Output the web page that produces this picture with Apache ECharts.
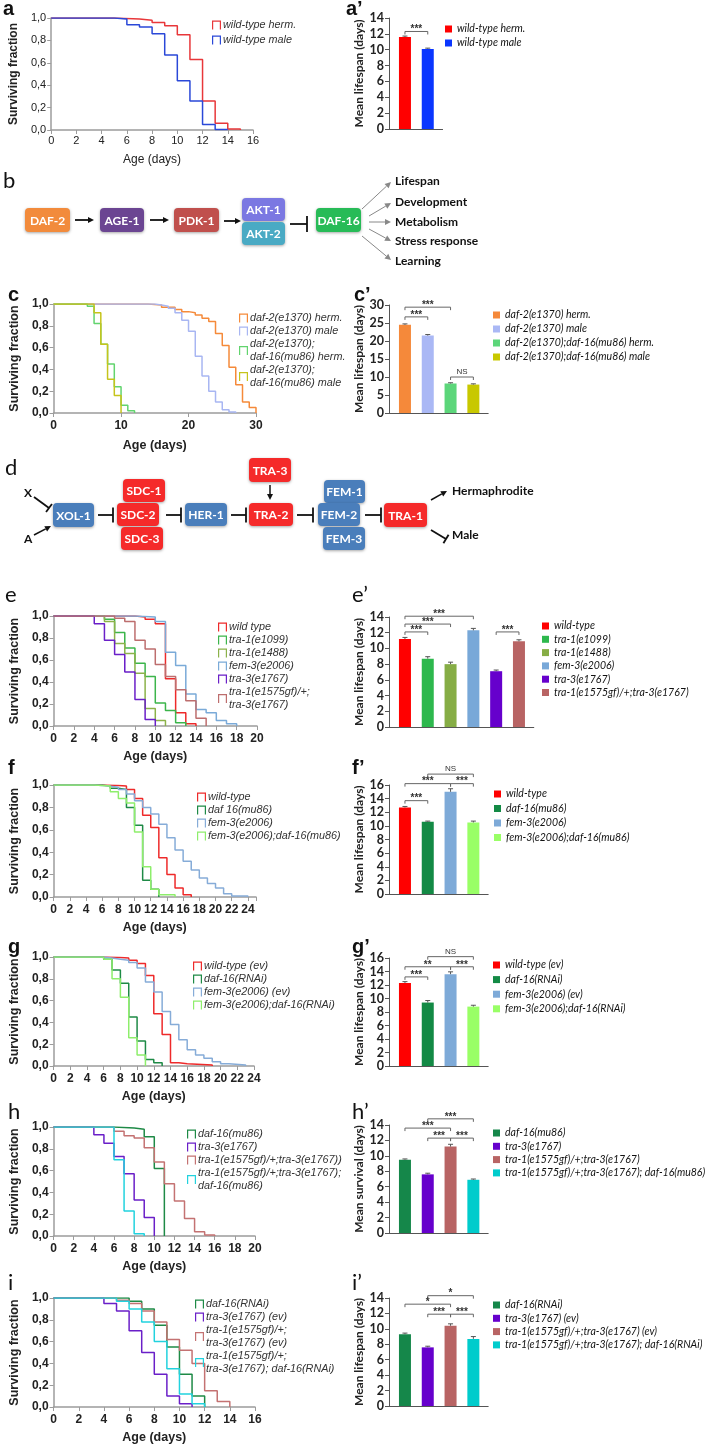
<!DOCTYPE html>
<html>
<head>
<meta charset="utf-8">
<script src="https://cdn.jsdelivr.net/npm/echarts@6/dist/echarts.min.js"></script>
<style>
  body { margin: 0; background: #fff; width: 709px; height: 1445px; position: relative; overflow: hidden; }
</style>
</head>
<body>
<script>
// ---------- data ----------
// a / a'
var aNames = ['wild-type herm.', 'wild-type male'];
var aHerm = [[0,1],[5,0.995],[6,0.99],[7,0.98],[8,0.96],[9,0.93],[10,0.85],[11,0.63],[12,0.26],[13,0.06],[14,0.01],[15,0]];
var aMale = [[0,1],[5,0.99],[6,0.94],[7,0.92],[8,0.86],[9,0.67],[10,0.44],[11,0.26],[12,0.05],[13,0.005],[14,0]];
var aMean = [11.6, 10.1];
var aSem = [0.12, 0.1];
var aSig = [[1, 2, 12.3, '***']];

// c / c'
var cNames = ['daf-2(e1370) herm.', 'daf-2(e1370) male', 'daf-2(e1370);\ndaf-16(mu86) herm.', 'daf-2(e1370);\ndaf-16(mu86) male'];
var cBarNames = ['daf-2(e1370) herm.', 'daf-2(e1370) male', 'daf-2(e1370);daf-16(mu86) herm.', 'daf-2(e1370);daf-16(mu86) male'];
var cHerm = [[0,1],[14,0.99],[16,0.97],[18,0.95],[19,0.93],[20,0.92],[21,0.9],[22,0.87],[23,0.84],[24,0.73],[25,0.62],[26,0.42],[27,0.26],[28,0.1],[29,0.05],[30,0]];
var cMale = [[0,1],[15,0.99],[16,0.98],[17,0.96],[18,0.92],[19,0.85],[20,0.75],[21,0.52],[22,0.34],[23,0.2],[24,0.1],[25,0.03],[26,0.01],[27,0]];
var cDblHerm = [[0,1],[5,0.98],[6,0.82],[7,0.63],[8,0.45],[9,0.24],[10,0.07],[11,0.02],[12,0]];
var cDblMale = [[0,1],[6,0.92],[7,0.63],[8,0.31],[9,0.16],[10,0]];
var cMean = [24.5, 21.5, 8.2, 7.9];
var cSem = [0.25, 0.3, 0.2, 0.2];
var cSig = [[1, 2, 26.7, '***'], [1, 3, 29.4, '***'], [3, 4, 10, 'NS']];

// e / e'
var eNames = ['wild type', 'tra-1(e1099)', 'tra-1(e1488)', 'fem-3(e2006)', 'tra-3(e1767)', 'tra-1(e1575gf)/+;\ntra-3(e1767)'];
var eBarNames = ['wild-type', 'tra-1(e1099)', 'tra-1(e1488)', 'fem-3(e2006)', 'tra-3(e1767)', 'tra-1(e1575gf)/+;tra-3(e1767)'];
var eWt = [[0,1],[8,0.99],[9,0.97],[10,0.93],[11,0.43],[12,0.12],[13,0.02],[14,0]];
var eTra1a = [[0,1],[5,0.97],[6,0.85],[7,0.71],[8,0.57],[9,0.45],[10,0.21],[11,0.14],[12,0.03],[13,0]];
var eTra1b = [[0,1],[5,0.95],[6,0.75],[7,0.66],[8,0.48],[9,0.16],[10,0.05],[11,0]];
var eFem3 = [[0,1],[8,0.99],[10,0.95],[11,0.67],[12,0.55],[13,0.29],[14,0.15],[15,0.12],[16,0.05],[17,0.02],[18,0]];
var eTra3 = [[0,1],[4,0.93],[5,0.78],[6,0.65],[7,0.49],[8,0.24],[9,0.06],[10,0]];
var eGf = [[0,1],[6,0.98],[7,0.95],[8,0.78],[9,0.7],[10,0.56],[11,0.45],[12,0.33],[13,0.23],[14,0.07],[15,0]];
var eMean = [11.2, 8.7, 8.0, 12.3, 7.1, 10.9];
var eSem = [0.2, 0.25, 0.25, 0.25, 0.15, 0.2];
var eSig = [[1, 4, 14.1, '***'], [1, 3, 13.1, '***'], [1, 2, 12.1, '***'], [5, 6, 12.1, '***']];

// f / f'
var fNames = ['wild-type', 'daf 16(mu86)', 'fem-3(e2006)', 'fem-3(e2006);daf-16(mu86)'];
var fBarNames = ['wild-type', 'daf-16(mu86)', 'fem-3(e2006)', 'fem-3(e2006);daf-16(mu86)'];
var fWt = [[0,1],[6,0.995],[8,0.99],[9,0.96],[10,0.88],[11,0.73],[12,0.62],[13,0.35],[14,0.2],[15,0.08],[16,0.02],[17,0]];
var fDaf16 = [[0,1],[6,0.99],[7,0.97],[8,0.96],[9,0.8],[10,0.64],[11,0.15],[12,0.07],[13,0]];
var fFem3 = [[0,1],[5,0.99],[7,0.98],[8,0.96],[9,0.92],[10,0.86],[11,0.8],[12,0.74],[13,0.65],[14,0.53],[15,0.42],[16,0.32],[17,0.24],[18,0.17],[19,0.12],[20,0.08],[21,0.03],[22,0.01],[24,0]];
var fDbl = [[0,1],[5,0.99],[7,0.94],[8,0.88],[9,0.84],[10,0.58],[11,0.27],[12,0.07],[13,0.02],[15,0]];
var fMean = [12.7, 10.6, 15.0, 10.5];
var fSem = [0.15, 0.1, 0.45, 0.2];
var fSig = [[1, 2, 13.7, '***'], [1, 3, 16.2, '***'], [3, 4, 16.2, '***'], [2, 4, 17.6, 'NS']];

// g / g'
var gNames = ['wild-type (ev)', 'daf-16(RNAi)', 'fem-3(e2006) (ev)', 'fem-3(e2006);daf-16(RNAi)'];
var gWt = [[0,1],[6,0.995],[8,0.99],[9,0.97],[10,0.94],[11,0.83],[12,0.48],[13,0.29],[14,0.03],[15,0.02],[16,0.01],[19,0]];
var gDaf16 = [[0,1],[6,0.98],[7,0.88],[8,0.76],[9,0.45],[10,0.23],[11,0.06],[12,0.03],[13,0]];
var gFem3 = [[0,1],[6,0.99],[7,0.98],[8,0.97],[9,0.95],[10,0.9],[11,0.77],[12,0.68],[13,0.5],[14,0.38],[15,0.24],[16,0.15],[17,0.1],[18,0.07],[19,0.04],[20,0.02],[21,0.01],[23,0]];
var gDbl = [[0,1],[6,0.98],[7,0.8],[8,0.63],[9,0.26],[10,0.1],[11,0]];
var gMean = [12.3, 9.4, 13.6, 8.8];
var gSem = [0.2, 0.3, 0.35, 0.2];
var gSig = [[1, 2, 13.2, '***'], [1, 3, 14.7, '**'], [3, 4, 14.7, '***'], [2, 4, 16.2, 'NS']];

// h / h'
var hNames = ['daf-16(mu86)', 'tra-3(e1767)', 'tra-1(e1575gf)/+;tra-3(e1767))', 'tra-1(e1575gf)/+;tra-3(e1767);\ndaf-16(mu86)'];
var hBarNames = ['daf-16(mu86)', 'tra-3(e1767)', 'tra-1(e1575gf)/+;tra-3(e1767)', 'tra-1(e1575gf)/+;tra-3(e1767); daf-16(mu86)'];
var hDaf16 = [[0,1],[6,0.99],[8,0.98],[9,0.91],[10,0.62],[11,0]];
var hTra3 = [[0,1],[4,0.93],[5,0.85],[6,0.73],[7,0.57],[8,0.33],[9,0.17],[10,0]];
var hGf = [[0,1],[6,0.96],[7,0.92],[8,0.9],[9,0.81],[10,0.68],[11,0.48],[12,0.32],[13,0.16],[14,0.04],[15,0.01],[16,0]];
var hGfDaf16 = [[0,1],[6,0.7],[7,0.23],[8,0.02],[9,0]];
var hMean = [9.5, 7.6, 11.2, 6.9];
var hSem = [0.1, 0.15, 0.3, 0.1];
var hSig = [[2, 4, 14.8, '***'], [1, 3, 13.6, '***'], [2, 3, 12.3, '***'], [3, 4, 12.3, '***']];

// i / i'
var iNames = ['daf-16(RNAi)', 'tra-3(e1767) (ev)', 'tra-1(e1575gf)/+;\ntra-3(e1767) (ev)', 'tra-1(e1575gf)/+;\ntra-3(e1767); daf-16(RNAi)'];
var iBarNames = ['daf-16(RNAi)', 'tra-3(e1767) (ev)', 'tra-1(e1575gf)/+;tra-3(e1767) (ev)', 'tra-1(e1575gf)/+;tra-3(e1767); daf-16(RNAi)'];
var iDaf16 = [[0,1],[6,0.97],[7,0.9],[8,0.75],[9,0.55],[10,0.3],[11,0.1],[12,0]];
var iTra3 = [[0,1],[4,0.95],[5,0.88],[6,0.7],[7,0.5],[8,0.3],[9,0.1],[10,0.03],[11,0]];
var iGf = [[0,1],[5,0.98],[6,0.95],[7,0.88],[8,0.78],[9,0.62],[10,0.52],[11,0.4],[12,0.15],[13,0.05],[14,0]];
var iGfDaf16 = [[0,1],[5,0.97],[6,0.9],[7,0.78],[8,0.6],[9,0.35],[10,0.12],[11,0.03],[12,0]];
var iMean = [9.3, 7.6, 10.4, 8.7];
var iSem = [0.15, 0.15, 0.25, 0.3];
var iSig = [[2, 4, 14.3, '*'], [1, 3, 13.2, '*'], [2, 3, 11.9, '***'], [3, 4, 11.9, '***']];

// ---------- helpers ----------
var SANS = 'Liberation Sans';
var CAL = 'Lato';
var STEP_ICON = 'path://M0,12L0,0L12,0L12,12L10.4,12L10.4,1.6L1.6,1.6L1.6,12Z';

// narrow face for the bar legends (Calibri-like width), fall back to a smaller Lato
function hasFont(f) {
  var c = document.createElement('canvas').getContext('2d');
  var t = 'abcdefghijklmnopqrstuvwxyz0123456789()';
  c.font = '12px monospace';
  var w0 = c.measureText(t).width;
  c.font = '12px "' + f + '", monospace';
  return Math.abs(c.measureText(t).width - w0) > 0.5;
}
var LEG_FONT = hasFont('Liberation Sans Narrow') ? { family: 'Liberation Sans Narrow', size: 12.5 } : { family: CAL, size: 10.5 };

function box(x, y, w, h) {
  var d = document.createElement('div');
  d.style.cssText = 'position:absolute;left:' + x + 'px;top:' + y + 'px;width:' + w + 'px;height:' + h + 'px';
  document.body.appendChild(d);
  return echarts.init(d);
}

function comma(v) { return v.toFixed(1).replace('.', ','); }

function kmPanel(o) {
  var padT = 24, padB = 50, top = o.y0 - padT;
  var chart = box(0, top, 362, o.y1 - o.y0 + padT + padB);
  var axisColor = '#9c9c9c';
  chart.setOption({
    animation: false,
    grid: { left: o.x0, top: padT, width: o.x1 - o.x0, height: o.y1 - o.y0 },
    legend: {
      orient: 'vertical', left: o.lx, top: o.ly - top - o.lh / 2,
      itemWidth: 9, itemHeight: 9, itemGap: 0, icon: STEP_ICON, selectedMode: false,
      textStyle: { fontFamily: SANS, fontStyle: 'italic', fontSize: 10.8, lineHeight: o.lh, color: '#333', padding: [0, 0, 0, -3] },
      data: o.names
    },
    xAxis: {
      type: 'value', min: 0, max: o.xMax, interval: o.xStep,
      name: 'Age (days)', nameLocation: 'middle', nameGap: o.xGap,
      nameTextStyle: { fontFamily: SANS, fontSize: o.titleSize, fontWeight: o.titleWeight, color: '#222' },
      axisLine: { lineStyle: { color: axisColor, width: 1.5 } },
      axisTick: { length: 4, lineStyle: { color: axisColor } },
      axisLabel: {
        fontFamily: SANS, fontSize: o.tickSize, fontWeight: o.tickWeight, color: '#222', margin: o.xMargin,
        formatter: function (v) { return v <= o.xLast ? String(v) : ''; }
      },
      splitLine: { show: false }
    },
    yAxis: {
      type: 'value', min: 0, max: 1, interval: 0.2,
      name: 'Surviving fraction', nameLocation: 'middle', nameGap: o.yGap,
      nameTextStyle: { fontFamily: SANS, fontSize: o.titleSize, fontWeight: 'bold', color: '#222' },
      axisLine: { show: true, lineStyle: { color: axisColor, width: 1.5 } },
      axisTick: { show: true, length: 4, lineStyle: { color: axisColor } },
      axisLabel: { fontFamily: SANS, fontSize: o.tickSize, fontWeight: o.tickWeight, color: '#222', margin: 5, formatter: comma },
      splitLine: { show: false }
    },
    series: o.names.map(function (n, i) {
      return {
        type: 'line', name: n, step: 'end', data: o.data[i], symbol: 'none',
        lineStyle: { color: o.colors[i], width: 1.5 }, itemStyle: { color: o.colors[i] }
      };
    })
  });
}

function barPanel(o) {
  var n = o.values.length, padT = 32, padB = 12, left = 350, top = o.y0 - padT;
  var chart = box(left, top, 359, o.y1 - o.y0 + padT + padB);
  var series = o.names.map(function (nm, i) {
    return { type: 'bar', name: nm, barWidth: 12, barGap: '-100%', data: [[i + 1, o.values[i]]], itemStyle: { color: o.colors[i] } };
  });
  // error bars
  series.push({
    type: 'custom', z: 5, silent: true,
    data: o.values.map(function (v, i) { return [i + 1, v, o.errs[i]]; }),
    renderItem: function (p, api) {
      var hi = api.coord([api.value(0), api.value(1) + api.value(2)]);
      var lo = api.coord([api.value(0), api.value(1)]);
      var st = { stroke: '#555', lineWidth: 1 };
      return { type: 'group', children: [
        { type: 'line', shape: { x1: hi[0], y1: hi[1], x2: lo[0], y2: lo[1] }, style: st },
        { type: 'line', shape: { x1: hi[0] - 2.5, y1: hi[1], x2: hi[0] + 2.5, y2: hi[1] }, style: st }
      ] };
    }
  });
  // significance brackets
  series.push({
    type: 'custom', z: 6, silent: true, encode: { x: [0, 1], y: 2 },
    data: o.sig.map(function (s) { return [s[0], s[1], s[2]]; }),
    renderItem: function (p, api) {
      var a = api.coord([api.value(0), api.value(2)]);
      var b = api.coord([api.value(1), api.value(2)]);
      var txt = o.sig[p.dataIndex][3];
      var ns = txt === 'NS';
      return { type: 'group', children: [
        { type: 'polyline', shape: { points: [[a[0], a[1] + 3], [a[0], a[1]], [b[0], b[1]], [b[0], b[1] + 3]] },
          style: { stroke: '#666', lineWidth: 1, fill: null } },
        { type: 'text', x: (a[0] + b[0]) / 2, y: a[1] + (ns ? -1 : 3),
          style: { text: txt, align: 'center', verticalAlign: 'bottom', fill: '#333',
            font: (ns ? 'normal 8px ' : 'bold 10px ') + SANS } }
      ] };
    }
  });
  chart.setOption({
    animation: false,
    grid: { left: o.x0 - left, top: padT, width: (n + 0.35) * 22.8, height: o.y1 - o.y0 },
    legend: {
      orient: 'vertical', left: o.lx - left, top: o.ly - top - o.lh / 2,
      icon: 'rect', itemWidth: 7, itemHeight: 7, itemGap: 0, itemStyle: { borderWidth: 0 }, selectedMode: false,
      textStyle: { fontFamily: LEG_FONT.family, fontStyle: 'italic', fontSize: LEG_FONT.size, lineHeight: o.lh, color: '#111' },
      data: o.names
    },
    xAxis: {
      type: 'value', min: 0.3, max: n + 0.65,
      axisLine: { onZero: false, lineStyle: { color: '#555' } },
      axisTick: { show: false }, axisLabel: { show: false }, splitLine: { show: false }
    },
    yAxis: {
      type: 'value', min: 0, max: o.yMax, interval: o.yStep,
      name: o.yName, nameLocation: 'middle', nameGap: o.yGap,
      nameTextStyle: { fontFamily: CAL, fontWeight: 'bold', fontSize: 12, color: '#222' },
      axisLine: { show: true, onZero: false, lineStyle: { color: '#555' } },
      axisTick: { show: true, length: 4, lineStyle: { color: '#555' } },
      axisLabel: { fontFamily: CAL, fontWeight: 'bold', fontSize: 12.5, color: '#222', margin: 5 },
      splitLine: { show: false }
    },
    series: series
  });
}

// ---------- background: panel letters and the two pathway diagrams ----------
var els = [];
function letter(t, x, y, bold) {
  els.push({ type: 'text', x: x, y: y, style: { text: t, fill: '#111', align: 'left', verticalAlign: 'middle',
    font: bold ? 'bold 20px ' + SANS : 'normal 22px ' + CAL } });
}
function node(t, x1, y1, x2, y2, color) {
  els.push({ type: 'rect', shape: { x: x1, y: y1, width: x2 - x1, height: y2 - y1, r: 4 },
    style: { fill: color, shadowBlur: 3, shadowOffsetY: 1, shadowColor: 'rgba(0,0,0,0.35)' } });
  els.push({ type: 'text', x: (x1 + x2) / 2, y: (y1 + y2) / 2 + 1,
    style: { text: t, fill: '#fff', align: 'center', verticalAlign: 'middle', font: 'bold 12px ' + CAL } });
}
function word(t, x, y) {
  els.push({ type: 'text', x: x, y: y, style: { text: t, fill: '#111', align: 'left', verticalAlign: 'middle', font: 'bold 12px ' + CAL } });
}
function arrow(x1, y1, x2, y2, color, w) {
  var dx = x2 - x1, dy = y2 - y1, L = Math.sqrt(dx * dx + dy * dy), ux = dx / L, uy = dy / L, h = 6, s = 3;
  var bx = x2 - ux * h, by = y2 - uy * h;
  els.push({ type: 'line', shape: { x1: x1, y1: y1, x2: bx, y2: by }, style: { stroke: color, lineWidth: w } });
  els.push({ type: 'polygon', shape: { points: [[x2, y2], [bx - uy * s, by + ux * s], [bx + uy * s, by - ux * s]] }, style: { fill: color } });
}
function inhibit(x1, y1, x2, y2, len) {
  var dx = x2 - x1, dy = y2 - y1, L = Math.sqrt(dx * dx + dy * dy), px = -dy / L, py = dx / L, b = len / 2;
  els.push({ type: 'line', shape: { x1: x1, y1: y1, x2: x2, y2: y2 }, style: { stroke: '#111', lineWidth: 1.8 } });
  els.push({ type: 'line', shape: { x1: x2 - px * b, y1: y2 - py * b, x2: x2 + px * b, y2: y2 + py * b }, style: { stroke: '#111', lineWidth: 1.8 } });
}

letter('a', 3, 9, true); letter('a\u2019', 346, 9, true);
letter('b', 3, 181, false);
letter('c', 8, 295, true); letter('c\u2019', 354, 295, true);
letter('d', 5, 468, false);
letter('e', 5, 595, false); letter('e\u2019', 352, 595, false);
letter('f', 8, 768, true); letter('f\u2019', 352, 768, true);
letter('g', 8, 947, true); letter('g\u2019', 352, 947, true);
letter('h', 8, 1112, false); letter('h\u2019', 352, 1112, false);
letter('i', 8, 1283, false); letter('i\u2019', 352, 1283, false);

// b: insulin signalling
node('DAF-2', 25, 208, 70, 232, '#f28b3c');
arrow(75, 220, 94, 220, '#111', 1.8);
node('AGE-1', 100, 208, 144, 232, '#6b4592');
arrow(150, 220, 169, 220, '#111', 1.8);
node('PDK-1', 174, 208, 219, 232, '#c0504d');
arrow(224, 221, 241, 221, '#111', 1.8);
node('AKT-1', 242, 198, 285, 221, '#7b78e2');
node('AKT-2', 242, 222, 285, 245, '#4aaac4');
inhibit(290, 224, 307, 224, 16);
node('DAF-16', 316, 208, 361, 232, '#27bb57');
arrow(362, 209, 391, 182, '#888', 1);
arrow(369, 216, 391, 203, '#888', 1);
arrow(369, 222, 391, 222, '#888', 1);
arrow(369, 229, 391, 241, '#888', 1);
arrow(362, 236, 391, 260, '#888', 1);
word('Lifespan', 395, 181); word('Development', 395, 202); word('Metabolism', 395, 222);
word('Stress response', 395, 241); word('Learning', 395, 261);

// d: sex determination
var BLUE = '#4a7ebb', RED = '#f52a2a';
word('X', 24, 493); word('A', 24, 539);
inhibit(34, 497, 49, 508, 10);
arrow(34, 535, 51, 526, '#111', 1.5);
node('XOL-1', 53, 503, 94, 527, BLUE);
inhibit(98, 515, 113, 515, 15);
node('SDC-1', 123, 479, 165, 502, RED);
node('SDC-2', 117, 503, 159, 526, RED);
node('SDC-3', 121, 527, 163, 550, RED);
inhibit(166, 515, 181, 515, 15);
node('HER-1', 185, 503, 227, 526, BLUE);
inhibit(231, 515, 246, 515, 15);
node('TRA-3', 249, 458, 291, 482, RED);
arrow(270, 485, 270, 500, '#111', 1.5);
node('TRA-2', 249, 503, 293, 526, RED);
inhibit(297, 515, 313, 515, 15);
node('FEM-1', 324, 480, 365, 503, BLUE);
node('FEM-2', 318, 503, 360, 526, BLUE);
node('FEM-3', 323, 527, 365, 550, BLUE);
inhibit(365, 515, 381, 515, 15);
node('TRA-1', 384, 503, 427, 527, RED);
arrow(431, 500, 447, 491, '#111', 1.5);
inhibit(431, 530, 446, 539, 10);
word('Hermaphrodite', 452, 491); word('Male', 452, 535);

var bg = box(0, 0, 709, 1445);
bg.setOption({ animation: false, graphic: { elements: els } });

// ---------- survival panels ----------
var boldTicks = { tickSize: 12, tickWeight: 'bold', titleSize: 12.5, titleWeight: 'bold' };
function km(o) { kmPanel(Object.assign({}, boldTicks, o)); }

kmPanel({ x0: 43, x1: 253, y0: 18, y1: 130, xMax: 16, xStep: 2, xLast: 16, xGap: 24, xMargin: 5, yGap: 22,
  tickSize: 11, tickWeight: 'normal', titleSize: 12, titleWeight: 'normal',
  names: aNames, data: [aHerm, aMale], colors: ['#e8373a', '#2a48d8'], lx: 207, ly: 20, lh: 15 });

km({ x0: 48, x1: 256, y0: 304, y1: 413, xMax: 30, xStep: 10, xLast: 30, xGap: 26, xMargin: 7, yGap: 24,
  names: cNames, data: [cHerm, cMale, cDblHerm, cDblMale], colors: ['#f58a3a', '#a8b6f2', '#62d46e', '#c6c41c'],
  lx: 234, ly: 313, lh: 13 });

km({ x0: 48, x1: 257, y0: 616, y1: 726, xMax: 20, xStep: 2, xLast: 20, xGap: 23, xMargin: 7, yGap: 24,
  names: eNames, data: [eWt, eTra1a, eTra1b, eFem3, eTra3, eGf],
  colors: ['#ee2a2a', '#3cb54b', '#8cb24a', '#7aaad8', '#6a1fc8', '#bd6e6e'], lx: 213, ly: 622, lh: 13 });

km({ x0: 48, x1: 256, y0: 785, y1: 897, xMax: 25, xStep: 2, xLast: 24, xGap: 22, xMargin: 7, yGap: 24,
  names: fNames, data: [fWt, fDaf16, fFem3, fDbl], colors: ['#ee2a2a', '#1e8a46', '#86acd8', '#8eee6c'],
  lx: 192, ly: 792, lh: 13 });

km({ x0: 48, x1: 254, y0: 957, y1: 1066, xMax: 24, xStep: 2, xLast: 24, xGap: 23, xMargin: 7, yGap: 24,
  names: gNames, data: [gWt, gDaf16, gFem3, gDbl], colors: ['#ee2a2a', '#1e8a46', '#86acd8', '#8eee6c'],
  lx: 188, ly: 961, lh: 13 });

km({ x0: 48, x1: 255, y0: 1127, y1: 1236, xMax: 20, xStep: 2, xLast: 20, xGap: 23, xMargin: 7, yGap: 24,
  names: hNames, data: [hDaf16, hTra3, hGf, hGfDaf16], colors: ['#1e8a46', '#6a1fc8', '#c47272', '#22d2de'],
  lx: 182, ly: 1129, lh: 13 });

km({ x0: 48, x1: 255, y0: 1298, y1: 1407, xMax: 16, xStep: 2, xLast: 16, xGap: 23, xMargin: 7, yGap: 24,
  names: iNames, data: [iDaf16, iTra3, iGf, iGfDaf16], colors: ['#1e8a46', '#6a1fc8', '#c47272', '#22d2de'],
  lx: 190, ly: 1299, lh: 13 });

// ---------- mean lifespan panels ----------
barPanel({ x0: 389, y0: 18, y1: 129, yMax: 14, yStep: 2, yName: 'Mean lifespan (days)', yGap: 20,
  names: aNames, values: aMean, errs: aSem, sig: aSig, colors: ['#ff0000', '#0a36ff'], lx: 440, ly: 24, lh: 14 });

barPanel({ x0: 389, y0: 305, y1: 413, yMax: 30, yStep: 5, yName: 'Mean lifespan (days)', yGap: 22,
  names: cBarNames, values: cMean, errs: cSem, sig: cSig, colors: ['#f5893a', '#aab8f5', '#5cd67a', '#c8c800'],
  lx: 488, ly: 310, lh: 14 });

barPanel({ x0: 389, y0: 617, y1: 727, yMax: 14, yStep: 2, yName: 'Mean lifespan (days)', yGap: 20,
  names: eBarNames, values: eMean, errs: eSem, sig: eSig,
  colors: ['#ff0000', '#2db84d', '#86ad45', '#78a8d8', '#6600cc', '#b86464'], lx: 537, ly: 621, lh: 13.3 });

barPanel({ x0: 389, y0: 785, y1: 894, yMax: 16, yStep: 2, yName: 'Mean lifespan (days)', yGap: 20,
  names: fBarNames, values: fMean, errs: fSem, sig: fSig, colors: ['#ff0000', '#138a45', '#7eaad8', '#99ff66'],
  lx: 489, ly: 789, lh: 14.5 });

barPanel({ x0: 389, y0: 958, y1: 1066, yMax: 16, yStep: 2, yName: 'Mean lifespan (days)', yGap: 20,
  names: gNames, values: gMean, errs: gSem, sig: gSig, colors: ['#ff0000', '#138a45', '#7eaad8', '#99ff66'],
  lx: 488, ly: 960, lh: 14.6 });

barPanel({ x0: 389, y0: 1125, y1: 1233, yMax: 14, yStep: 2, yName: 'Mean survival (days)', yGap: 20,
  names: hBarNames, values: hMean, errs: hSem, sig: hSig, colors: ['#15874a', '#6600cc', '#b86464', '#00cccc'],
  lx: 488, ly: 1128, lh: 13.3 });

barPanel({ x0: 389, y0: 1298, y1: 1406, yMax: 14, yStep: 2, yName: 'Mean lifespan (days)', yGap: 20,
  names: iBarNames, values: iMean, errs: iSem, sig: iSig, colors: ['#15874a', '#6600cc', '#b86464', '#00cccc'],
  lx: 488, ly: 1300, lh: 13.3 });
</script>
</body>
</html>
